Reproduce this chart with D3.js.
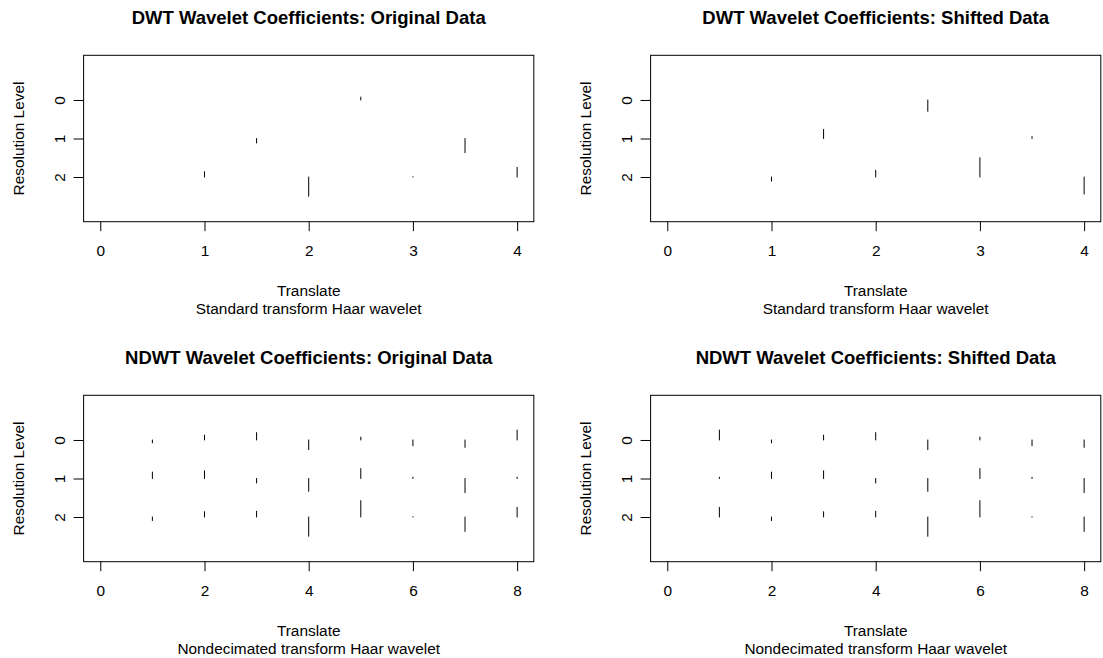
<!DOCTYPE html>
<html>
<head>
<meta charset="utf-8">
<script src="https://cdn.jsdelivr.net/npm/d3@7"></script>
<style>
  html, body { margin: 0; padding: 0; background: #fff; }
  svg { display: block; }
  text { font-family: "Liberation Sans", Arial, Helvetica, sans-serif; fill: #000; }
</style>
</head>
<body>
<svg id="chart" width="1103" height="658"></svg>
<script>
// Resolution levels shown on the vertical axis (coarsest at the top)
const levels = [0, 1, 2];
const levelLabels = ["0", "1", "2"];

// Translate axis ticks
const dwtTicks = [0, 1, 2, 3, 4];
const ndwtTicks = [0, 2, 4, 6, 8];

// Translate positions of the decimated coefficients at each level
const dwtPosL0 = [2.5];
const dwtPosL1 = [1.5, 3.5];
const dwtPosL2 = [1, 2, 3, 4];
// Nondecimated transform: one coefficient per translate at every level
const ndwtPos = [1, 2, 3, 4, 5, 6, 7, 8];

// DWT coefficients, original data
const dwtOrigL0 = [0.9];
const dwtOrigL1 = [-1.4, -4.4];
const dwtOrigL2 = [1.65, -6.0, 0.1, 3.0];

// DWT coefficients, shifted data
const dwtShiftL0 = [-3.0];
const dwtShiftL1 = [2.4, 0.5];
const dwtShiftL2 = [-1.1, 1.8, 5.1, -4.5];

// NDWT coefficients, original data
const ndwtOrigL0 = [-0.9, 1.5, 2.3, -3.0, 0.9, -1.8, -2.3, 3.1];
const ndwtOrigL1 = [2.0, 2.4, -1.4, -4.0, 3.1, 0.4, -4.4, 0.4];
const ndwtOrigL2 = [-1.1, 1.65, 1.8, -6.0, 5.1, 0.1, -4.5, 3.0];

// NDWT coefficients, shifted data
const ndwtShiftL0 = [3.1, -0.9, 1.5, 2.3, -3.0, 0.9, -1.8, -2.3];
const ndwtShiftL1 = [0.4, 2.0, 2.4, -1.4, -4.0, 3.1, 0.4, -4.4];
const ndwtShiftL2 = [3.0, -1.1, 1.65, 1.8, -6.0, 5.1, 0.1, -4.5];

const titles = [
  "DWT Wavelet Coefficients: Original Data",
  "DWT Wavelet Coefficients: Shifted Data",
  "NDWT Wavelet Coefficients: Original Data",
  "NDWT Wavelet Coefficients: Shifted Data"
];
const xLabel = "Translate";
const yLabel = "Resolution Level";
const subTitles = [
  "Standard transform Haar wavelet",
  "Standard transform Haar wavelet",
  "Nondecimated transform Haar wavelet",
  "Nondecimated transform Haar wavelet"
];

const panels = [
  { title: titles[0], sub: subTitles[0], xmax: 4, ticks: dwtTicks,
    pos: [dwtPosL0, dwtPosL1, dwtPosL2], coef: [dwtOrigL0, dwtOrigL1, dwtOrigL2] },
  { title: titles[1], sub: subTitles[1], xmax: 4, ticks: dwtTicks,
    pos: [dwtPosL0, dwtPosL1, dwtPosL2], coef: [dwtShiftL0, dwtShiftL1, dwtShiftL2] },
  { title: titles[2], sub: subTitles[2], xmax: 8, ticks: ndwtTicks,
    pos: [ndwtPos, ndwtPos, ndwtPos], coef: [ndwtOrigL0, ndwtOrigL1, ndwtOrigL2] },
  { title: titles[3], sub: subTitles[3], xmax: 8, ticks: ndwtTicks,
    pos: [ndwtPos, ndwtPos, ndwtPos], coef: [ndwtShiftL0, ndwtShiftL1, ndwtShiftL2] }
];

// Plot-region geometry of the 2x2 grid
const colLeft = [83.6, 650.6];
const rowTop = [55.3, 395.3];
const plotW = 450.2;
const plotH = 166.4;

const svg = d3.select("#chart");
svg.append("rect").attr("width", 1103).attr("height", 658).attr("fill", "#fff");

panels.forEach((p, i) => {
  const L = colLeft[i % 2];
  const T = rowTop[Math.floor(i / 2)];
  const g = svg.append("g");

  // 4% padding on both axes
  const xPad = 0.04 * p.xmax;
  const x = d3.scaleLinear().domain([-xPad, p.xmax + xPad]).range([L, L + plotW]);
  const yLo = -1, yHi = 3, yPad = 0.04 * (yHi - yLo);
  const y = d3.scaleLinear().domain([yLo - yPad, yHi + yPad]).range([T, T + plotH]);

  // global scaling: the largest coefficient spans half a level
  const maxAbs = d3.max(p.coef.flat(), d => Math.abs(d));
  const len = d3.scaleLinear().domain([0, maxAbs]).range([0, 0.5]);

  // coefficient segments
  levels.forEach((lev, li) => {
    g.selectAll(null)
      .data(p.coef[li].map((c, k) => ({ c, t: p.pos[li][k] })))
      .enter().append("line")
      .attr("x1", d => x(d.t)).attr("x2", d => x(d.t))
      .attr("y1", y(lev))
      .attr("y2", d => y(lev - len(d.c)))
      .attr("stroke", "#000").attr("stroke-width", 1)
      .attr("stroke-linecap", "round");
  });

  // bottom axis
  const xAxis = d3.axisBottom(x).tickValues(p.ticks).tickSize(9.5).tickPadding(6)
    .tickFormat(d3.format("d"));
  const gx = g.append("g").attr("transform", `translate(0,${T + plotH})`).call(xAxis);
  gx.select(".domain").remove();
  gx.selectAll(".tick line").attr("stroke", "#000");
  gx.selectAll(".tick text").attr("font-size", 15.4).attr("fill", "#000")
    .attr("dy", null).attr("y", 34.5);

  // left axis with labels parallel to the axis
  const yAxis = d3.axisLeft(y).tickValues(levels).tickSize(10)
    .tickFormat((d, k) => levelLabels[k]);
  const gy = g.append("g").attr("transform", `translate(${L},0)`).call(yAxis);
  gy.select(".domain").remove();
  gy.selectAll(".tick line").attr("stroke", "#000");
  gy.selectAll(".tick text").attr("font-size", 15.4).attr("fill", "#000")
    .attr("x", null).attr("dy", null)
    .attr("text-anchor", "middle")
    .attr("transform", "translate(-18.5,0) rotate(-90)");

  // plot box
  g.append("rect").attr("x", L).attr("y", T).attr("width", plotW).attr("height", plotH)
    .attr("fill", "none").attr("stroke", "#000").attr("stroke-width", 1);

  const cx = L + plotW / 2;
  g.append("text").attr("x", cx).attr("y", T - 31.3).attr("text-anchor", "middle")
    .attr("font-size", 18.5).attr("font-weight", "bold").text(p.title);
  g.append("text").attr("x", cx).attr("y", T + plotH + 74.3).attr("text-anchor", "middle")
    .attr("font-size", 15.4).text(xLabel);
  g.append("text").attr("x", cx).attr("y", T + plotH + 92.3).attr("text-anchor", "middle")
    .attr("font-size", 15.4).text(p.sub);
  g.append("text")
    .attr("transform", `translate(${L - 59.6},${T + plotH / 2}) rotate(-90)`)
    .attr("text-anchor", "middle").attr("font-size", 15.4).text(yLabel);
});
</script>
</body>
</html>
